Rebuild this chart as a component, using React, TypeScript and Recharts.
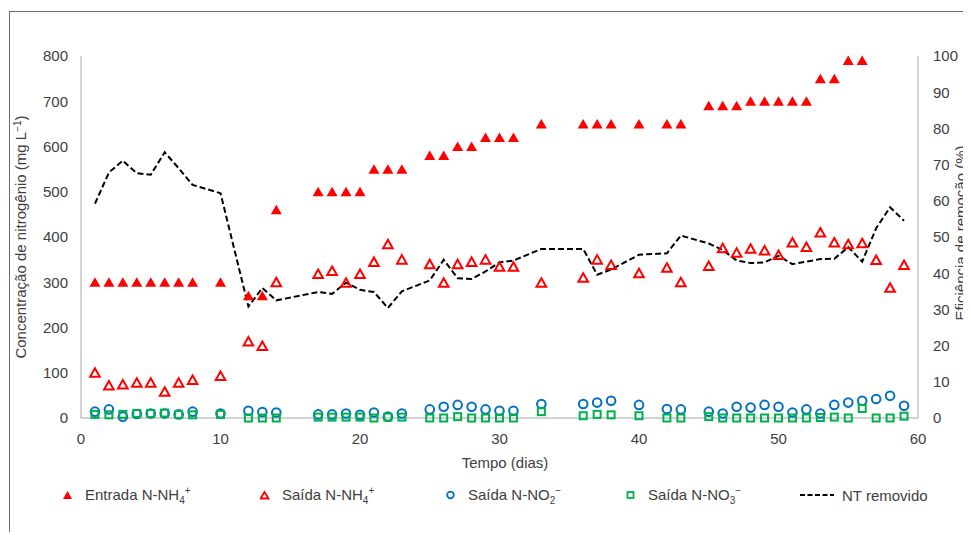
import React from "react";
import {
  ComposedChart,
  Scatter,
  Line,
  XAxis,
  YAxis,
  Legend,
  Label,
} from "recharts";

// dias de operação
const days = [
  1, 2, 3, 4, 5, 6, 7, 8, 10, 12, 13, 14, 17, 18, 19, 20, 21, 22, 23, 25, 26,
  27, 28, 29, 30, 31, 33, 36, 37, 38, 40, 42, 43, 45, 46, 47, 48, 49, 50, 51,
  52, 53, 54, 55, 56, 57, 58, 59,
];

// mg/L
const entradaNH4 = [
  300, 300, 300, 300, 300, 300, 300, 300, 300, 270, 270, 460, 500, 500, 500,
  500, 550, 550, 550, 580, 580, 600, 600, 620, 620, 620, 650, 650, 650, 650,
  650, 650, 650, 690, 690, 690, 700, 700, 700, 700, 700, 750, 750, 790, 790,
  null, null, null,
];

const saidaNH4 = [
  100, 72, 74, 78, 78, 58, 78, 84, 93, 169, 159, 300, 318, 325, 299, 318, 345,
  384, 350, 340, 299, 340, 345, 350, 334, 334, 299, 310, 350, 338, 320, 332,
  300, 336, 375, 365, 374, 370, 360, 388, 378, 410, 388, 384, 386, 349, 288,
  338,
];

const saidaNO2 = [
  14, 19, 3, 9, 10, 10, 8, 14, 10, 16, 13, 12, 8, 8, 10, 7, 12, 3, 10, 19, 25,
  29, 25, 19, 16, 16, 31, 31, 34, 38, 29, 20, 19, 14, 10, 25, 23, 29, 25, 12,
  19, 10, 29, 34, 38, 42, 49, 27,
];

const saidaNO3 = [
  8, 7, 8, 10, 10, 11, 8, 7, 8, 0, 0, 0, 2, 2, 2, 2, 0, 2, 2, 0, 0, 3, 0, 0,
  0, 0, 14, 5, 8, 7, 5, 0, 0, 3, 0, 0, 0, 0, 0, 0, 0, 1, 2, 0, 21, 0, 0, 4,
];

// %
const ntRemovido = [
  59.2, 67.8, 71.1, 67.6, 67.2, 73.4, 69, 64.4, 62.1, 30.8, 35.9, 32.5, 34.8,
  34.3, 37.4, 35.4, 34.8, 30.4, 35, 38, 43.7, 38.6, 38.4, 40.5, 43, 43.5, 46.7,
  46.7, 39.6, 41, 45.1, 45.5, 50.4, 48.2, 46.4, 43.5, 42.8, 43, 44.8, 42.5,
  43.2, 43.9, 44, 47.2, 43.2, 52.4, 58.2, 54.5,
];

const xTicks = [0, 10, 20, 30, 40, 50, 60];
const concTicks = [0, 100, 200, 300, 400, 500, 600, 700, 800];
const effTicks = [0, 10, 20, 30, 40, 50, 60, 70, 80, 90, 100];

const RED = "#FF0000";
const BLUE = "#0070C0";
const GREEN = "#00B050";
const FONT = '"Liberation Sans", Arial, sans-serif';
const TEXT = "#404040";
const AXIS = "#A6A6A6";

const rows = (vals: (number | null)[]) =>
  days
    .map((day, i) => ({ day, v: vals[i] }))
    .filter((r) => r.v !== null && r.v !== undefined);

const FilledTri = (p: any) => (
  <polygon
    points={`${p.cx},${p.cy - 5} ${p.cx + 5.5},${p.cy + 4.5} ${p.cx - 5.5},${p.cy + 4.5}`}
    fill={RED}
  />
);
const HollowTri = (p: any) => (
  <polygon
    points={`${p.cx},${p.cy - 4.5} ${p.cx + 4.8},${p.cy + 4} ${p.cx - 4.8},${p.cy + 4}`}
    fill="none"
    stroke={RED}
    strokeWidth={2}
  />
);
const Ring = (p: any) => (
  <circle cx={p.cx} cy={p.cy} r={4.3} fill="none" stroke={BLUE} strokeWidth={2} />
);
const Box = (p: any) => (
  <rect
    x={p.cx - 3.5}
    y={p.cy - 3.5}
    width={7}
    height={7}
    fill="none"
    stroke={GREEN}
    strokeWidth={2}
  />
);

const sub = { fontSize: 10, verticalAlign: "-4px" } as const;
const sup = { fontSize: 10, verticalAlign: "6px" } as const;

const legendItems = [
  {
    left: 55,
    icon: <polygon points="4.5,1 9,9 0,9" fill={RED} />,
    label: (
      <>
        Entrada N-NH<span style={sub}>4</span>
        <span style={sup}>+</span>
      </>
    ),
  },
  {
    left: 252,
    icon: <polygon points="4.5,2 8.5,8.5 0.5,8.5" fill="none" stroke={RED} strokeWidth={1.8} />,
    label: (
      <>
        Saída N-NH<span style={sub}>4</span>
        <span style={sup}>+</span>
      </>
    ),
  },
  {
    left: 438,
    icon: <circle cx={4.5} cy={5} r={3.3} fill="none" stroke={BLUE} strokeWidth={1.8} />,
    label: (
      <>
        Saída N-NO<span style={sub}>2</span>
        <span style={sup}>−</span>
      </>
    ),
  },
  {
    left: 618,
    icon: <rect x={1.5} y={2} width={6} height={6} fill="none" stroke={GREEN} strokeWidth={1.8} />,
    label: (
      <>
        Saída N-NO<span style={sub}>3</span>
        <span style={sup}>−</span>
      </>
    ),
  },
];

const renderLegend = () => (
  <div style={{ position: "relative", height: 22, fontFamily: FONT, fontSize: 15, color: TEXT }}>
    {legendItems.map((it, i) => (
      <div key={i} style={{ position: "absolute", left: it.left, top: 0, display: "flex", alignItems: "center", height: 22, whiteSpace: "nowrap" }}>
        <svg width={10} height={10} style={{ marginRight: 12 }}>
          {it.icon}
        </svg>
        <span>{it.label}</span>
      </div>
    ))}
    <div style={{ position: "absolute", left: 792, top: 0, display: "flex", alignItems: "center", height: 22, whiteSpace: "nowrap" }}>
      <svg width={34} height={10} style={{ marginRight: 8 }}>
        <line x1={0} y1={5} x2={34} y2={5} stroke="#000" strokeWidth={2} strokeDasharray="5 2.5" />
      </svg>
      <span>NT removido</span>
    </div>
  </div>
);

const tickStyle = { fill: TEXT, fontSize: 15, fontFamily: FONT };

export default function App() {
  return (
    <div style={{ position: "relative", width: 963, height: 524, overflow: "hidden", background: "#fff" }}>
      <div
        style={{
          position: "absolute",
          left: 1,
          top: 3,
          width: 1200,
          height: 1200,
          borderTop: "1px solid #6b6b6b",
          borderLeft: "1px solid #6b6b6b",
        }}
      />
      <ComposedChart
        width={990}
        height={524}
        margin={{ top: 48, right: 35, bottom: 62, left: 13 }}
        style={{ position: "absolute", left: 0, top: 0 }}
      >
        <XAxis
          dataKey="day"
          type="number"
          domain={[0, 60]}
          ticks={xTicks}
          tickLine={false}
          tickSize={6}
          tickMargin={9}
          height={30}
          stroke={AXIS}
          tick={tickStyle}
        >
          <Label
            content={() => (
              <text x={497} y={460} textAnchor="middle" fill={TEXT} fontSize={15} fontFamily={FONT}>
                Tempo (dias)
              </text>
            )}
          />
        </XAxis>
        <YAxis
          yAxisId="c"
          type="number"
          domain={[0, 800]}
          ticks={concTicks}
          tickLine={false}
          tickSize={6}
          tickMargin={7}
          width={60}
          stroke={AXIS}
          tick={tickStyle}
        >
          <Label
            content={() => (
              <text
                x={18}
                y={229}
                transform="rotate(-90 18 229)"
                textAnchor="middle"
                fill={TEXT}
                fontSize={15}
                fontFamily={FONT}
              >
                Concentração de nitrogênio (mg L
                <tspan baselineShift="super" fontSize={10}>−1</tspan>)
              </text>
            )}
          />
        </YAxis>
        <YAxis
          yAxisId="p"
          orientation="right"
          type="number"
          domain={[0, 100]}
          ticks={effTicks}
          tickLine={false}
          tickSize={6}
          tickMargin={9}
          width={45}
          stroke={AXIS}
          tick={{ ...tickStyle, textAnchor: "start" }}
        >
          <Label
            content={() => (
              <text
                x={958}
                y={225}
                transform="rotate(-90 958 225)"
                textAnchor="middle"
                fill={TEXT}
                fontSize={15}
                fontFamily={FONT}
              >
                Eficiência de remoção (%)
              </text>
            )}
          />
        </YAxis>
        <Scatter
          name="Entrada N-NH4+"
          data={rows(entradaNH4)}
          dataKey="v"
          yAxisId="c"
          shape={FilledTri}
          isAnimationActive={false}
        />
        <Scatter
          name="Saída N-NH4+"
          data={rows(saidaNH4)}
          dataKey="v"
          yAxisId="c"
          shape={HollowTri}
          isAnimationActive={false}
        />
        <Scatter
          name="Saída N-NO2-"
          data={rows(saidaNO2)}
          dataKey="v"
          yAxisId="c"
          shape={Ring}
          isAnimationActive={false}
        />
        <Scatter
          name="Saída N-NO3-"
          data={rows(saidaNO3)}
          dataKey="v"
          yAxisId="c"
          shape={Box}
          isAnimationActive={false}
        />
        <Line
          name="NT removido"
          data={rows(ntRemovido)}
          dataKey="v"
          yAxisId="p"
          type="linear"
          stroke="#000"
          strokeWidth={2}
          strokeDasharray="6 3"
          dot={false}
          activeDot={false}
          isAnimationActive={false}
        />
        <Legend
          content={renderLegend}
          wrapperStyle={{ position: "absolute", left: 0, top: 476, width: 963, height: 22 }}
        />
      </ComposedChart>
    </div>
  );
}
